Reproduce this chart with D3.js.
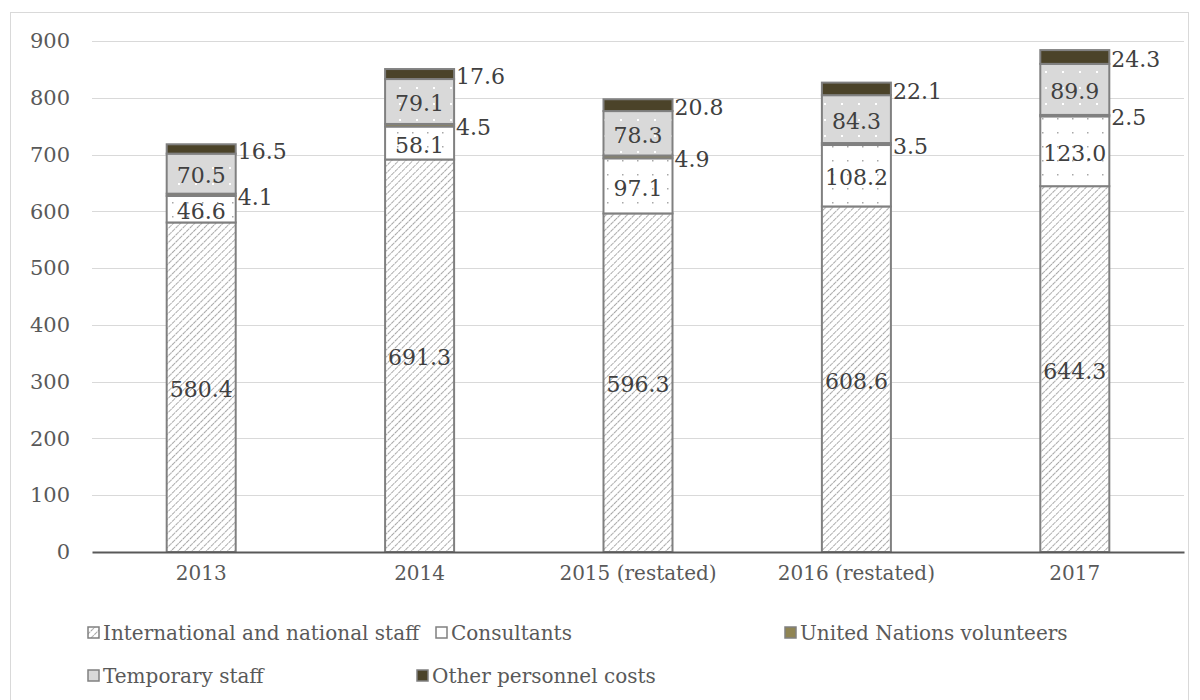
<!DOCTYPE html>
<html>
<head>
<meta charset="utf-8">
<script src="https://cdn.jsdelivr.net/npm/d3@7"></script>
<style>
  html, body { margin: 0; padding: 0; background: #fff; }
  svg { display: block; }
</style>
</head>
<body>
<svg id="chart" width="1200" height="700"></svg>
<script>
// Personnel costs by year (millions), stacked by category
const years = ["2013", "2014", "2015 (restated)", "2016 (restated)", "2017"];
const seriesNames = [
  "International and national staff",
  "Consultants",
  "United Nations volunteers",
  "Temporary staff",
  "Other personnel costs"
];
const staff       = [580.4, 691.3, 596.3, 608.6, 644.3];
const consultants = [46.6, 58.1, 97.1, 108.2, 123.0];
const volunteers  = [4.1, 4.5, 4.9, 3.5, 2.5];
const temporary   = [70.5, 79.1, 78.3, 84.3, 89.9];
const other       = [16.5, 17.6, 20.8, 22.1, 24.3];
const yTicks = [0, 100, 200, 300, 400, 500, 600, 700, 800, 900];

const seriesValues = [staff, consultants, volunteers, temporary, other];
const rows = years.map((y, i) => {
  const r = { year: y };
  seriesNames.forEach((n, k) => { r[n] = seriesValues[k][i]; });
  return r;
});

const svg = d3.select("#chart");
const font = "'DejaVu Serif', 'Liberation Serif', serif";
const textColor = "#595959";

// chart border
svg.append("rect")
  .attr("x", 10.5).attr("y", 12.5).attr("width", 1178).attr("height", 700)
  .attr("fill", "#fff").attr("stroke", "#d9d9d9").attr("stroke-width", 1);

// fill patterns
const defs = svg.append("defs");
const hatch = defs.append("pattern").attr("id", "p-staff")
  .attr("patternUnits", "userSpaceOnUse").attr("width", 5).attr("height", 5)
  .attr("patternTransform", "rotate(45)");
hatch.append("rect").attr("width", 5).attr("height", 5).attr("fill", "#fff");
hatch.append("line").attr("x1", 0).attr("y1", 0).attr("x2", 0).attr("y2", 5)
  .attr("stroke", "#959595").attr("stroke-width", 1.7).attr("stroke-dasharray", "2 0.8");

const dots = defs.append("pattern").attr("id", "p-cons")
  .attr("patternUnits", "userSpaceOnUse").attr("width", 15).attr("height", 14);
dots.append("rect").attr("width", 15).attr("height", 14).attr("fill", "#fff");
dots.append("rect").attr("x", 7).attr("y", 6).attr("width", 1.5).attr("height", 1.5).attr("fill", "#a8a8a8");

const tdots = defs.append("pattern").attr("id", "p-temp")
  .attr("patternUnits", "userSpaceOnUse").attr("width", 17).attr("height", 16);
tdots.append("rect").attr("width", 17).attr("height", 16).attr("fill", "#d9d9d9");
tdots.append("rect").attr("x", 8).attr("y", 7).attr("width", 2).attr("height", 2).attr("fill", "#fff");

const fills = ["url(#p-staff)", "url(#p-cons)", "#8f8453", "url(#p-temp)", "#4b4329"];
const legendFills = ["url(#p-staff)", "#fff", "#8f8453", "#d9d9d9", "#4b4329"];

// scales
const x = d3.scaleBand().domain(years).range([92, 1184]).paddingInner(0.684).paddingOuter(0.342);
const y = d3.scaleLinear().domain([0, 900]).range([552, 41]);

// gridlines
svg.append("g").selectAll("line").data(yTicks.filter(d => d > 0)).join("line")
  .attr("x1", 92).attr("x2", 1184)
  .attr("y1", d => Math.round(y(d)) + 0.5).attr("y2", d => Math.round(y(d)) + 0.5)
  .attr("stroke", "#d9d9d9").attr("stroke-width", 1);

// y axis labels
const yAxis = svg.append("g").attr("transform", "translate(70,0)")
  .call(d3.axisLeft(y).tickValues(yTicks).tickSize(0).tickPadding(0));
yAxis.select(".domain").remove();
yAxis.selectAll("text").attr("font-family", font).attr("font-size", 21).attr("fill", textColor);

// stacked bars
const stack = d3.stack().keys(seriesNames)(rows);
const layers = svg.append("g").selectAll("g").data(stack).join("g")
  .attr("fill", (d, i) => fills[i]);
layers.selectAll("rect").data(d => d).join("rect")
  .attr("x", d => x(d.data.year))
  .attr("width", x.bandwidth())
  .attr("y", d => y(d[1]))
  .attr("height", d => y(d[0]) - y(d[1]))
  .attr("stroke", "#808080").attr("stroke-width", 2);

// x axis
const xAxis = svg.append("g").attr("transform", "translate(0,552)")
  .call(d3.axisBottom(x).tickSize(0).tickPadding(14));
xAxis.select(".domain").attr("stroke", "#595959").attr("stroke-width", 2);
xAxis.selectAll("text").attr("font-family", font).attr("font-size", 20).attr("fill", textColor);

// value labels: inside for the three large segments, to the right for the thin ones
const labels = svg.append("g").attr("font-family", font).attr("font-size", 22).attr("fill", "#404040");
stack.forEach((layer, k) => {
  layer.forEach(d => {
    const v = d.data[layer.key];
    const inside = k === 0 || k === 1 || k === 3;
    const cy = y((d[0] + d[1]) / 2);
    labels.append("text")
      .attr("x", inside ? x(d.data.year) + x.bandwidth() / 2 : x(d.data.year) + x.bandwidth() + 2)
      .attr("y", cy + 2)
      .attr("dy", "0.35em")
      .attr("text-anchor", inside ? "middle" : "start")
      .text(v.toFixed(1));
  });
});

// legend
const legendPos = [[88, 633], [436, 633], [785, 633], [88, 676], [417, 676]];
const legend = svg.append("g");
seriesNames.forEach((n, k) => {
  const [lx, ly] = legendPos[k];
  legend.append("rect").attr("x", lx).attr("y", ly - 6).attr("width", 11).attr("height", 11)
    .attr("fill", legendFills[k])
    .attr("stroke", "#808080").attr("stroke-width", 1.5);
  legend.append("text").attr("x", lx + 15).attr("y", ly).attr("dy", "0.35em")
    .attr("font-family", font).attr("font-size", 20).attr("fill", textColor).text(n);
});
</script>
</body>
</html>
